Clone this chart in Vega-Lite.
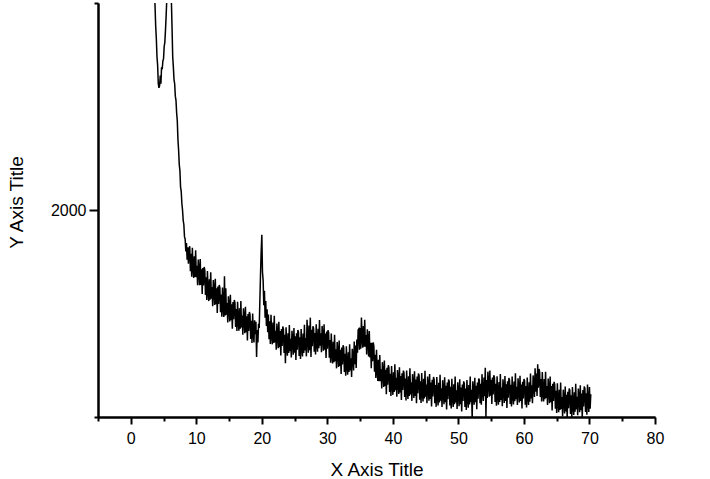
{
"$schema": "https://vega.github.io/schema/vega-lite/v6.json",
"autosize": {"type": "none"},
"width": 557,
"height": 414,
"padding": {"left": 98, "top": 3, "right": 55, "bottom": 62},
"background": "white",
"config": {"view": {"stroke": null}, "axis": {"grid": false, "labelFont": "Liberation Sans", "titleFont": "Liberation Sans", "domainColor": "black", "tickColor": "black", "labelColor": "black", "titleColor": "black", "domainWidth": 2, "tickWidth": 2, "labelFontSize": 16, "titleFontSize": 19, "titleFontWeight": "normal", "labelOverlap": false, "labelFlush": false}},
"data": {"values": [
{"x":3.5,"y":3150},{"x":3.6,"y":3050},{"x":3.7,"y":2990},{"x":3.8,"y":2890},{"x":3.9,"y":2830},{"x":4.0,"y":2740},{"x":4.1,"y":2700},{"x":4.2,"y":2610},{"x":4.3,"y":2590},{"x":4.4,"y":2600},{"x":4.5,"y":2650},{"x":4.6,"y":2610},{"x":4.7,"y":2690},{"x":4.8,"y":2680},{"x":4.9,"y":2720},{"x":5.0,"y":2730},{"x":5.1,"y":2790},{"x":5.2,"y":2810},{"x":5.3,"y":2870},{"x":5.4,"y":2940},{"x":5.5,"y":3020},{"x":5.6,"y":3100},{"x":5.7,"y":3150},{"x":5.8,"y":3200},{"x":5.9,"y":3180},{"x":6.0,"y":3150},{"x":6.1,"y":3080},{"x":6.2,"y":3010},{"x":6.3,"y":2880},{"x":6.4,"y":2740},{"x":6.5,"y":2690},{"x":6.6,"y":2630},{"x":6.7,"y":2610},{"x":6.8,"y":2550},{"x":6.9,"y":2530},{"x":7.0,"y":2470},{"x":7.1,"y":2430},{"x":7.2,"y":2340},{"x":7.3,"y":2290},{"x":7.4,"y":2220},{"x":7.5,"y":2190},{"x":7.6,"y":2110},{"x":7.7,"y":2090},{"x":7.8,"y":2030},{"x":7.9,"y":2000},{"x":8.0,"y":1950},{"x":8.1,"y":1930},{"x":8.2,"y":1870},{"x":8.3,"y":1860},{"x":8.4,"y":1800},{"x":8.5,"y":1840},{"x":8.6,"y":1760},{"x":8.7,"y":1820},{"x":8.8,"y":1740},{"x":8.9,"y":1810},
{"x":9.0,"y":1825},{"x":9.1,"y":1704},{"x":9.2,"y":1789},{"x":9.3,"y":1678},{"x":9.4,"y":1818},{"x":9.5,"y":1722},{"x":9.6,"y":1672},{"x":9.7,"y":1776},{"x":9.8,"y":1676},{"x":9.9,"y":1805},
{"x":10.0,"y":1675},{"x":10.1,"y":1730},{"x":10.2,"y":1636},{"x":10.3,"y":1761},{"x":10.4,"y":1712},{"x":10.5,"y":1637},{"x":10.6,"y":1763},{"x":10.7,"y":1638},{"x":10.8,"y":1714},{"x":10.9,"y":1594},
{"x":11.0,"y":1720},{"x":11.1,"y":1635},{"x":11.2,"y":1725},{"x":11.3,"y":1710},{"x":11.4,"y":1590},{"x":11.5,"y":1675},{"x":11.6,"y":1565},{"x":11.7,"y":1705},{"x":11.8,"y":1610},{"x":11.9,"y":1560},
{"x":12.0,"y":1665},{"x":12.1,"y":1567},{"x":12.2,"y":1699},{"x":12.3,"y":1571},{"x":12.4,"y":1628},{"x":12.5,"y":1535},{"x":12.6,"y":1662},{"x":12.7,"y":1614},{"x":12.8,"y":1541},{"x":12.9,"y":1668},
{"x":13.0,"y":1545},{"x":13.1,"y":1622},{"x":13.2,"y":1503},{"x":13.3,"y":1630},{"x":13.4,"y":1546},{"x":13.5,"y":1638},{"x":13.6,"y":1624},{"x":13.7,"y":1506},{"x":13.8,"y":1592},{"x":13.9,"y":1484},
{"x":14.0,"y":1625},{"x":14.1,"y":1531},{"x":14.2,"y":1483},{"x":14.3,"y":1680},{"x":14.4,"y":1491},{"x":14.5,"y":1622},{"x":14.6,"y":1494},{"x":14.7,"y":1550},{"x":14.8,"y":1457},{"x":14.9,"y":1583},
{"x":15.0,"y":1535},{"x":15.1,"y":1462},{"x":15.2,"y":1590},{"x":15.3,"y":1467},{"x":15.4,"y":1545},{"x":15.5,"y":1427},{"x":15.6,"y":1555},{"x":15.7,"y":1472},{"x":15.8,"y":1565},{"x":15.9,"y":1552},
{"x":16.0,"y":1435},{"x":16.1,"y":1522},{"x":16.2,"y":1415},{"x":16.3,"y":1557},{"x":16.4,"y":1465},{"x":16.5,"y":1417},{"x":16.6,"y":1525},{"x":16.7,"y":1427},{"x":16.8,"y":1560},{"x":16.9,"y":1432},
{"x":17.0,"y":1490},{"x":17.1,"y":1397},{"x":17.2,"y":1525},{"x":17.3,"y":1477},{"x":17.4,"y":1405},{"x":17.5,"y":1532},{"x":17.6,"y":1410},{"x":17.7,"y":1487},{"x":17.8,"y":1370},{"x":17.9,"y":1497},
{"x":18.0,"y":1415},{"x":18.1,"y":1507},{"x":18.2,"y":1495},{"x":18.3,"y":1377},{"x":18.4,"y":1465},{"x":18.5,"y":1357},{"x":18.6,"y":1500},{"x":18.7,"y":1407},{"x":18.8,"y":1360},{"x":18.9,"y":1467},
{"x":19.0,"y":1400},{"x":19.1,"y":1460},{"x":19.2,"y":1290},{"x":19.3,"y":1420},{"x":19.4,"y":1360},{"x":19.5,"y":1450},{"x":19.6,"y":1430},{"x":19.7,"y":1560},{"x":19.8,"y":1690},{"x":19.9,"y":1800},
{"x":20.0,"y":1880},{"x":20.1,"y":1700},{"x":20.2,"y":1660},{"x":20.3,"y":1540},{"x":20.4,"y":1610},{"x":20.5,"y":1480},{"x":20.6,"y":1560},{"x":20.7,"y":1440},{"x":20.8,"y":1520},{"x":20.9,"y":1410},
{"x":21.0,"y":1495},{"x":21.1,"y":1376},{"x":21.2,"y":1462},{"x":21.3,"y":1353},{"x":21.4,"y":1494},{"x":21.5,"y":1400},{"x":21.6,"y":1351},{"x":21.7,"y":1457},{"x":21.8,"y":1358},{"x":21.9,"y":1489},
{"x":22.0,"y":1360},{"x":22.1,"y":1417},{"x":22.2,"y":1325},{"x":22.3,"y":1452},{"x":22.4,"y":1405},{"x":22.5,"y":1332},{"x":22.6,"y":1460},{"x":22.7,"y":1337},{"x":22.8,"y":1415},{"x":22.9,"y":1297},
{"x":23.0,"y":1425},{"x":23.1,"y":1343},{"x":23.2,"y":1437},{"x":23.3,"y":1425},{"x":23.4,"y":1309},{"x":23.5,"y":1397},{"x":23.6,"y":1260},{"x":23.7,"y":1434},{"x":23.8,"y":1343},{"x":23.9,"y":1296},
{"x":24.0,"y":1405},{"x":24.1,"y":1309},{"x":24.2,"y":1444},{"x":24.3,"y":1318},{"x":24.4,"y":1378},{"x":24.5,"y":1287},{"x":24.6,"y":1417},{"x":24.7,"y":1371},{"x":24.8,"y":1301},{"x":24.9,"y":1430},
{"x":25.0,"y":1310},{"x":25.1,"y":1390},{"x":25.2,"y":1275},{"x":25.3,"y":1405},{"x":25.4,"y":1325},{"x":25.5,"y":1420},{"x":25.6,"y":1410},{"x":25.7,"y":1295},{"x":25.8,"y":1385},{"x":25.9,"y":1280},
{"x":26.0,"y":1425},{"x":26.1,"y":1336},{"x":26.2,"y":1292},{"x":26.3,"y":1403},{"x":26.4,"y":1309},{"x":26.5,"y":1445},{"x":26.6,"y":1321},{"x":26.7,"y":1382},{"x":26.8,"y":1293},{"x":26.9,"y":1470},
{"x":27.0,"y":1380},{"x":27.1,"y":1311},{"x":27.2,"y":1442},{"x":27.3,"y":1323},{"x":27.4,"y":1480},{"x":27.5,"y":1290},{"x":27.6,"y":1421},{"x":27.7,"y":1342},{"x":27.8,"y":1438},{"x":27.9,"y":1429},
{"x":28.0,"y":1315},{"x":28.1,"y":1406},{"x":28.2,"y":1302},{"x":28.3,"y":1448},{"x":28.4,"y":1359},{"x":28.5,"y":1315},{"x":28.6,"y":1426},{"x":28.7,"y":1332},{"x":28.8,"y":1468},{"x":28.9,"y":1344},
{"x":29.0,"y":1405},{"x":29.1,"y":1313},{"x":29.2,"y":1440},{"x":29.3,"y":1393},{"x":29.4,"y":1320},{"x":29.5,"y":1448},{"x":29.6,"y":1325},{"x":29.7,"y":1403},{"x":29.8,"y":1285},{"x":29.9,"y":1413},
{"x":30.0,"y":1330},{"x":30.1,"y":1420},{"x":30.2,"y":1406},{"x":30.3,"y":1286},{"x":30.4,"y":1372},{"x":30.5,"y":1262},{"x":30.6,"y":1403},{"x":30.7,"y":1308},{"x":30.8,"y":1259},{"x":30.9,"y":1364},
{"x":31.0,"y":1265},{"x":31.1,"y":1397},{"x":31.2,"y":1270},{"x":31.3,"y":1327},{"x":31.4,"y":1235},{"x":31.5,"y":1362},{"x":31.6,"y":1315},{"x":31.7,"y":1242},{"x":31.8,"y":1370},{"x":31.9,"y":1247},
{"x":32.0,"y":1325},{"x":32.1,"y":1208},{"x":32.2,"y":1336},{"x":32.3,"y":1254},{"x":32.4,"y":1347},{"x":32.5,"y":1335},{"x":32.6,"y":1218},{"x":32.7,"y":1306},{"x":32.8,"y":1199},{"x":32.9,"y":1342},
{"x":33.0,"y":1250},{"x":33.1,"y":1204},{"x":33.2,"y":1313},{"x":33.3,"y":1217},{"x":33.4,"y":1351},{"x":33.5,"y":1225},{"x":33.6,"y":1284},{"x":33.7,"y":1193},{"x":33.8,"y":1330},{"x":33.9,"y":1290},
{"x":34.0,"y":1225},{"x":34.1,"y":1365},{"x":34.2,"y":1255},{"x":34.3,"y":1345},{"x":34.4,"y":1237},{"x":34.5,"y":1374},{"x":34.6,"y":1310},{"x":34.7,"y":1420},{"x":34.8,"y":1425},{"x":34.9,"y":1325},
{"x":35.0,"y":1430},{"x":35.1,"y":1330},{"x":35.2,"y":1480},{"x":35.3,"y":1385},{"x":35.4,"y":1335},{"x":35.5,"y":1440},{"x":35.6,"y":1340},{"x":35.7,"y":1470},{"x":35.8,"y":1340},{"x":35.9,"y":1396},
{"x":36.0,"y":1302},{"x":36.1,"y":1424},{"x":36.2,"y":1371},{"x":36.3,"y":1293},{"x":36.4,"y":1415},{"x":36.5,"y":1287},{"x":36.6,"y":1359},{"x":36.7,"y":1236},{"x":36.8,"y":1358},{"x":36.9,"y":1270},
{"x":37.0,"y":1360},{"x":37.1,"y":1342},{"x":37.2,"y":1219},{"x":37.3,"y":1301},{"x":37.4,"y":1188},{"x":37.5,"y":1325},{"x":37.6,"y":1227},{"x":37.7,"y":1174},{"x":37.8,"y":1276},{"x":37.9,"y":1173},
{"x":38.0,"y":1300},{"x":38.1,"y":1173},{"x":38.2,"y":1230},{"x":38.3,"y":1138},{"x":38.4,"y":1265},{"x":38.5,"y":1218},{"x":38.6,"y":1145},{"x":38.7,"y":1273},{"x":38.8,"y":1150},{"x":38.9,"y":1228},
{"x":39.0,"y":1110},{"x":39.1,"y":1238},{"x":39.2,"y":1156},{"x":39.3,"y":1250},{"x":39.4,"y":1238},{"x":39.5,"y":1121},{"x":39.6,"y":1209},{"x":39.7,"y":1102},{"x":39.8,"y":1246},{"x":39.9,"y":1154},
{"x":40.0,"y":1107},{"x":40.1,"y":1216},{"x":40.2,"y":1121},{"x":40.3,"y":1255},{"x":40.4,"y":1129},{"x":40.5,"y":1189},{"x":40.6,"y":1098},{"x":40.7,"y":1227},{"x":40.8,"y":1182},{"x":40.9,"y":1111},
{"x":41.0,"y":1240},{"x":41.1,"y":1119},{"x":41.2,"y":1198},{"x":41.3,"y":1082},{"x":41.4,"y":1211},{"x":41.5,"y":1130},{"x":41.6,"y":1224},{"x":41.7,"y":1213},{"x":41.8,"y":1097},{"x":41.9,"y":1186},
{"x":42.0,"y":1080},{"x":42.1,"y":1224},{"x":42.2,"y":1133},{"x":42.3,"y":1087},{"x":42.4,"y":1197},{"x":42.5,"y":1101},{"x":42.6,"y":1235},{"x":42.7,"y":1109},{"x":42.8,"y":1168},{"x":42.9,"y":1078},
{"x":43.0,"y":1207},{"x":43.1,"y":1162},{"x":43.2,"y":1092},{"x":43.3,"y":1221},{"x":43.4,"y":1101},{"x":43.5,"y":1181},{"x":43.6,"y":1066},{"x":43.7,"y":1195},{"x":43.8,"y":1115},{"x":43.9,"y":1210},
{"x":44.0,"y":1200},{"x":44.1,"y":1084},{"x":44.2,"y":1173},{"x":44.3,"y":1068},{"x":44.4,"y":1212},{"x":44.5,"y":1121},{"x":44.6,"y":1075},{"x":44.7,"y":1185},{"x":44.8,"y":1089},{"x":44.9,"y":1223},
{"x":45.0,"y":1098},{"x":45.1,"y":1157},{"x":45.2,"y":1066},{"x":45.3,"y":1196},{"x":45.4,"y":1150},{"x":45.5,"y":1079},{"x":45.6,"y":1208},{"x":45.7,"y":1087},{"x":45.8,"y":1167},{"x":45.9,"y":1051},
{"x":46.0,"y":1180},{"x":46.1,"y":1099},{"x":46.2,"y":1193},{"x":46.3,"y":1182},{"x":46.4,"y":1066},{"x":46.5,"y":1155},{"x":46.6,"y":1049},{"x":46.7,"y":1193},{"x":46.8,"y":1102},{"x":46.9,"y":1056},
{"x":47.0,"y":1165},{"x":47.1,"y":1070},{"x":47.2,"y":1204},{"x":47.3,"y":1079},{"x":47.4,"y":1139},{"x":47.5,"y":1048},{"x":47.6,"y":1178},{"x":47.7,"y":1133},{"x":47.8,"y":1062},{"x":47.9,"y":1192},
{"x":48.0,"y":1071},{"x":48.1,"y":1151},{"x":48.2,"y":1036},{"x":48.3,"y":1166},{"x":48.4,"y":1086},{"x":48.5,"y":1181},{"x":48.6,"y":1171},{"x":48.7,"y":1056},{"x":48.8,"y":1146},{"x":48.9,"y":1041},
{"x":49.0,"y":1185},{"x":49.1,"y":1094},{"x":49.2,"y":1048},{"x":49.3,"y":1158},{"x":49.4,"y":1062},{"x":49.5,"y":1196},{"x":49.6,"y":1070},{"x":49.7,"y":1129},{"x":49.8,"y":1039},{"x":49.9,"y":1168},
{"x":50.0,"y":1122},{"x":50.1,"y":1052},{"x":50.2,"y":1182},{"x":50.3,"y":1062},{"x":50.4,"y":1142},{"x":50.5,"y":1027},{"x":50.6,"y":1157},{"x":50.7,"y":1077},{"x":50.8,"y":1172},{"x":50.9,"y":1162},
{"x":51.0,"y":1048},{"x":51.1,"y":1138},{"x":51.2,"y":1034},{"x":51.3,"y":1179},{"x":51.4,"y":1090},{"x":51.5,"y":1045},{"x":51.6,"y":1155},{"x":51.7,"y":1061},{"x":51.8,"y":1196},{"x":51.9,"y":1072},
{"x":52.0,"y":1132},{"x":52.1,"y":990},{"x":52.2,"y":1173},{"x":52.3,"y":1129},{"x":52.4,"y":1059},{"x":52.5,"y":1190},{"x":52.6,"y":1071},{"x":52.7,"y":1151},{"x":52.8,"y":1037},{"x":52.9,"y":1167},
{"x":53.0,"y":1088},{"x":53.1,"y":1186},{"x":53.2,"y":1179},{"x":53.3,"y":1067},{"x":53.4,"y":1160},{"x":53.5,"y":1059},{"x":53.6,"y":1207},{"x":53.7,"y":1120},{"x":53.8,"y":1078},{"x":53.9,"y":1191},
{"x":54.0,"y":1100},{"x":54.1,"y":1238},{"x":54.2,"y":1000},{"x":54.3,"y":1179},{"x":54.4,"y":1092},{"x":54.5,"y":1219},{"x":54.6,"y":1171},{"x":54.7,"y":1098},{"x":54.8,"y":1225},{"x":54.9,"y":1103},
{"x":55.0,"y":1180},{"x":55.1,"y":1063},{"x":55.2,"y":1191},{"x":55.3,"y":1109},{"x":55.4,"y":1202},{"x":55.5,"y":1190},{"x":55.6,"y":1073},{"x":55.7,"y":1161},{"x":55.8,"y":1054},{"x":55.9,"y":1197},
{"x":56.0,"y":1105},{"x":56.1,"y":1059},{"x":56.2,"y":1169},{"x":56.3,"y":1073},{"x":56.4,"y":1208},{"x":56.5,"y":1082},{"x":56.6,"y":1142},{"x":56.7,"y":1052},{"x":56.8,"y":1182},{"x":56.9,"y":1137},
{"x":57.0,"y":1068},{"x":57.1,"y":1198},{"x":57.2,"y":1078},{"x":57.3,"y":1158},{"x":57.4,"y":1043},{"x":57.5,"y":1173},{"x":57.6,"y":1093},{"x":57.7,"y":1188},{"x":57.8,"y":1178},{"x":57.9,"y":1063},
{"x":58.0,"y":1156},{"x":58.1,"y":1051},{"x":58.2,"y":1196},{"x":58.3,"y":1106},{"x":58.4,"y":1061},{"x":58.5,"y":1171},{"x":58.6,"y":1076},{"x":58.7,"y":1211},{"x":58.8,"y":1086},{"x":58.9,"y":1146},
{"x":59.0,"y":1058},{"x":59.1,"y":1187},{"x":59.2,"y":1141},{"x":59.3,"y":1070},{"x":59.4,"y":1199},{"x":59.5,"y":1078},{"x":59.6,"y":1157},{"x":59.7,"y":1041},{"x":59.8,"y":1170},{"x":59.9,"y":1089},
{"x":60.0,"y":1183},{"x":60.1,"y":1174},{"x":60.2,"y":1059},{"x":60.3,"y":1150},{"x":60.4,"y":1046},{"x":60.5,"y":1191},{"x":60.6,"y":1102},{"x":60.7,"y":1058},{"x":60.8,"y":1168},{"x":60.9,"y":1074},
{"x":61.0,"y":1210},{"x":61.1,"y":1089},{"x":61.2,"y":1153},{"x":61.3,"y":1067},{"x":61.4,"y":1201},{"x":61.5,"y":1160},{"x":61.6,"y":1097},{"x":61.7,"y":1235},{"x":61.8,"y":1122},{"x":61.9,"y":1210},
{"x":62.0,"y":1102},{"x":62.1,"y":1255},{"x":62.2,"y":1142},{"x":62.3,"y":1232},{"x":62.4,"y":1217},{"x":62.5,"y":1097},{"x":62.6,"y":1184},{"x":62.7,"y":1075},{"x":62.8,"y":1217},{"x":62.9,"y":1123},
{"x":63.0,"y":1075},{"x":63.1,"y":1183},{"x":63.2,"y":1086},{"x":63.3,"y":1219},{"x":63.4,"y":1092},{"x":63.5,"y":1150},{"x":63.6,"y":1058},{"x":63.7,"y":1186},{"x":63.8,"y":1139},{"x":63.9,"y":1067},
{"x":64.0,"y":1195},{"x":64.1,"y":1072},{"x":64.2,"y":1150},{"x":64.3,"y":1032},{"x":64.4,"y":1160},{"x":64.5,"y":1077},{"x":64.6,"y":1170},{"x":64.7,"y":1157},{"x":64.8,"y":1040},{"x":64.9,"y":1127},
{"x":65.0,"y":1020},{"x":65.1,"y":1163},{"x":65.2,"y":1071},{"x":65.3,"y":1023},{"x":65.4,"y":1131},{"x":65.5,"y":1034},{"x":65.6,"y":1166},{"x":65.7,"y":1039},{"x":65.8,"y":1097},{"x":65.9,"y":1004},
{"x":66.0,"y":1132},{"x":66.1,"y":1087},{"x":66.2,"y":1017},{"x":66.3,"y":1147},{"x":66.4,"y":1027},{"x":66.5,"y":1107},{"x":66.6,"y":992},{"x":66.7,"y":1122},{"x":66.8,"y":1042},{"x":66.9,"y":1137},
{"x":67.0,"y":1130},{"x":67.1,"y":1015},{"x":67.2,"y":1105},{"x":67.3,"y":1000},{"x":67.4,"y":1145},{"x":67.5,"y":1055},{"x":67.6,"y":1010},{"x":67.7,"y":1120},{"x":67.8,"y":1025},{"x":67.9,"y":1160},
{"x":68.0,"y":1038},{"x":68.1,"y":1098},{"x":68.2,"y":1008},{"x":68.3,"y":1138},{"x":68.4,"y":1093},{"x":68.5,"y":1023},{"x":68.6,"y":1153},{"x":68.7,"y":1033},{"x":68.8,"y":1113},{"x":68.9,"y":998},
{"x":69.0,"y":1130},{"x":69.1,"y":1051},{"x":69.2,"y":1147},{"x":69.3,"y":1138},{"x":69.4,"y":1024},{"x":69.5,"y":1115},{"x":69.6,"y":1011},{"x":69.7,"y":1157},{"x":69.8,"y":1068},{"x":69.9,"y":1024},
{"x":70.0,"y":1145},{"x":70.1,"y":1040},{"x":70.2,"y":1110}
]},
"layer": [
{
"mark": {"type": "line", "color": "black", "strokeWidth": 1.5, "clip": true},
"encoding": {
"x": {"field": "x", "type": "quantitative", "scale": {"domain": [-5, 80], "nice": false, "zero": false},
"axis": {"orient": "bottom", "values": [0,10,20,30,40,50,60,70,80], "tickSize": 7, "labelPadding": 19, "labelBaseline": "alphabetic", "title": "X Axis Title", "titleX": 278.5, "titleY": 58, "titleAlign": "center", "titleBaseline": "alphabetic"}},
"y": {"field": "y", "type": "quantitative", "scale": {"domain": [1000, 3000], "nice": false, "zero": false},
"axis": {"orient": "left", "values": [2000], "format": "d", "tickSize": 9, "labelPadding": 3, "title": "Y Axis Title", "titleX": -76, "titleY": 199, "titleAngle": -90, "titleAlign": "center", "titleBaseline": "alphabetic"}}
}
},
{
"mark": {"type": "line", "strokeOpacity": 0, "clip": true},
"encoding": {
"x": {"field": "x", "type": "quantitative", "axis": {"orient": "bottom", "values": [-5,5,15,25,35,45,55,65,75], "tickSize": 4, "labels": false, "title": null}},
"y": {"field": "y", "type": "quantitative", "axis": {"orient": "left", "values": [1000, 3000], "tickSize": 4, "labels": false, "title": null}}
}
}
],
"resolve": {"axis": {"x": "independent", "y": "independent"}}
}
